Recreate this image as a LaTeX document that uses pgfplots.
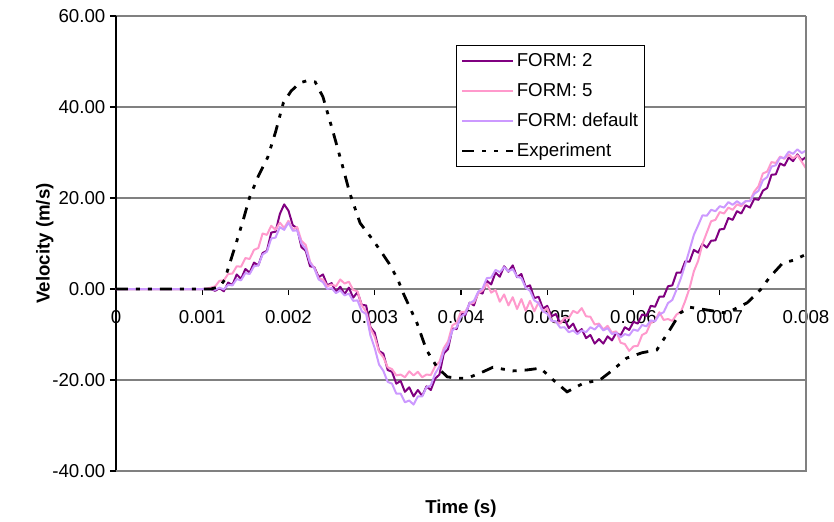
\documentclass[border=0pt]{standalone}
\usepackage{fontspec}
\setmainfont{Liberation Sans}
\usepackage{pgfplots}
\usepackage{pgfplotstable}
\pgfplotsset{compat=1.18}
\definecolor{cFtwo}{HTML}{800080}
\definecolor{cFfive}{HTML}{FF99CC}
\definecolor{cFdef}{HTML}{CC99FF}
\definecolor{gridgray}{HTML}{808080}

\pgfplotstableread{
t       f2     f5     fd
0       0      0      0
0.00050 0      0      0
0.00100 0      0      0
0.00105 0      0.1    0
0.00110 0      0.3    0
0.00115 -0.4   0.6    -0.2
0.00120 0.2    1.8    0.3
0.00125 -0.5   1.9    -0.1
0.00130 1.4    3.3    0.9
0.00135 0.9    3.4    0.8
0.00140 3.2    5.0    2.2
0.00145 2.2    4.9    1.9
0.00150 4.4    6.8    3.5
0.00155 3.6    6.6    3.3
0.00160 5.8    8.6    5.0
0.00165 5.2    9.0    5.2
0.00170 7.9    12.2   7.6
0.00175 8.4    11.9   8.2
0.00180 12.4   13.9   11.1
0.00185 12.6   13.0   11.3
0.00190 16.5   14.6   13.6
0.00195 18.6   13.4   13.0
0.00200 17.2   15.0   14.6
0.00205 14.0   13.1   12.8
0.00210 13.4   13.6   12.9
0.00215 9.2    10.6   10.0
0.00220 8.4    9.7    8.8
0.00225 5.0    6.0    5.8
0.00230 4.8    4.6    4.5
0.00235 2.6    2.3    2.1
0.00240 3.2    2.1    1.5
0.00245 0.8    0.6    0.0
0.00250 1.3    1.0    0.2
0.00255 -0.6   0.6    -0.9
0.00260 0.5    2.1    -0.3
0.00265 -1.1   1.2    -1.4
0.00270 0.3    1.6    -1.0
0.00275 -1.9   -0.2   -2.6
0.00280 -0.7   -0.5   -2.5
0.00285 -3.5   -3.6   -4.9
0.00290 -3.6   -5.0   -5.5
0.00295 -8.4   -8.6   -10.2
0.00300 -9.6   -10.5  -13.0
0.00305 -13.6  -13.8  -16.6
0.00310 -14.2  -15.0  -18.0
0.00315 -17.8  -17.2  -20.4
0.00320 -18.2  -17.6  -20.8
0.00325 -20.8  -19.0  -23.0
0.00330 -20.2  -18.8  -23.0
0.00335 -22.6  -19.4  -24.9
0.00340 -21.6  -18.1  -24.5
0.00345 -23.6  -19.0  -25.4
0.00350 -22.2  -18.2  -23.6
0.00355 -23.5  -19.4  -23.6
0.00360 -21.4  -18.8  -21.6
0.00365 -22.2  -18.9  -21.2
0.00370 -19.7  -17.0  -18.6
0.00375 -18.8  -16.0  -17.0
0.00380 -14.2  -13.0  -13.6
0.00385 -13.2  -11.5  -12.2
0.00390 -8.7   -8.0   -9.1
0.00395 -8.8   -7.4   -8.4
0.00400 -5.2   -5.0   -6.1
0.00405 -5.8   -5.0   -5.4
0.00410 -3.0   -3.3   -3.1
0.00415 -3.6   -3.0   -2.6
0.00420 -0.7   -1.0   -0.6
0.00425 -1.0   -0.3   0.1
0.00430 1.8    1.2    2.4
0.00435 1.0    -0.8   2.5
0.00440 3.6    -0.2   4.2
0.00445 2.7    -2.8   3.7
0.00450 5.0    -1.2   4.8
0.00455 3.8    -3.6   3.9
0.00460 5.2    -1.8   4.4
0.00465 2.6    -4.4   2.7
0.00470 3.3    -2.2   2.4
0.00475 0.4    -4.8   0.3
0.00480 0.8    -2.6   -0.4
0.00485 -2.0   -4.9   -2.5
0.00490 -1.7   -2.9   -3.1
0.00495 -4.3   -5.0   -4.9
0.00500 -3.7   -4.2   -5.4
0.00505 -6.0   -7.0   -7.0
0.00510 -5.5   -7.2   -7.1
0.00515 -7.5   -7.6   -8.5
0.00520 -6.6   -6.3   -8.4
0.00525 -8.6   -6.4   -9.5
0.00530 -7.6   -4.8   -9.1
0.00535 -9.6   -5.3   -9.9
0.00540 -8.8   -4.2   -9.1
0.00545 -10.8  -6.0   -9.5
0.00550 -10.1  -6.1   -8.4
0.00555 -12.0  -7.8   -8.9
0.00560 -11.0  -7.6   -7.9
0.00565 -12.0  -8.9   -9.1
0.00570 -10.4  -8.1   -8.6
0.00575 -11.3  -9.6   -9.9
0.00580 -9.6   -9.3   -9.6
0.00585 -10.2  -11.8  -10.6
0.00590 -8.4   -12.1  -9.9
0.00595 -9.0   -13.6  -10.2
0.00600 -7.2   -12.6  -8.9
0.00605 -7.6   -12.5  -9.2
0.00610 -5.6   -10.1  -7.9
0.00615 -5.9   -9.6   -8.2
0.00620 -3.7   -7.4   -6.9
0.00625 -3.9   -7.0   -7.1
0.00630 -1.7   -5.1   -5.6
0.00635 -1.7   -6.8   -5.1
0.00640 0.6    -6.6   -3.1
0.00645 0.8    -7.0   -2.4
0.00650 3.6    -5.6   -0.1
0.00655 3.6    -5.0   2.4
0.00660 6.1    -2.6   5.4
0.00665 6.0    0.2    8.6
0.00670 8.6    3.9    11.9
0.00675 8.0    6.2    14.0
0.00680 9.9    9.9    16.2
0.00685 9.1    12.4   16.1
0.00690 10.6   14.9   17.4
0.00695 10.7   15.2   17.1
0.00700 13.1   16.9   18.2
0.00705 13.2   16.6   17.9
0.00710 15.6   17.9   19.1
0.00715 15.2   17.4   18.5
0.00720 17.1   18.6   19.3
0.00725 16.6   18.2   18.6
0.00730 18.4   19.3   19.3
0.00735 17.9   19.4   19.3
0.00740 19.8   21.4   20.9
0.00745 19.6   22.6   21.6
0.00750 21.6   25.4   23.9
0.00755 22.2   25.8   24.6
0.00760 25.1   27.9   26.9
0.00765 25.2   27.7   27.2
0.00770 27.6   29.1   28.9
0.00775 27.1   28.6   28.8
0.00780 28.9   29.6   30.2
0.00785 28.1   28.7   29.7
0.00790 29.6   29.4   30.7
0.00795 28.3   28.0   29.9
0.00800 29.0   26.5   30.4
}\simdata

\pgfplotstableread{
t        v
0        0
0.00050  0
0.00110  0
0.00120  0.5
0.00126  2.0
0.00132  5.7
0.00140  10.5
0.00148  15.5
0.00155  20.2
0.00165  24.8
0.00176  29.0
0.00185  34.5
0.00194  40.9
0.00203  43.5
0.00213  45.3
0.00222  45.8
0.00231  45.5
0.00240  42.2
0.00252  34.3
0.00262  27.5
0.00271  21.1
0.00283  14.5
0.00295  11.5
0.00306  8.6
0.00317  5.5
0.00327  2.0
0.00333  -0.9
0.00340  -3.8
0.00349  -7.5
0.00360  -13.4
0.00372  -17.1
0.00384  -19.3
0.00395  -19.6
0.00407  -19.6
0.00422  -18.5
0.00437  -17.2
0.00460  -18.0
0.00476  -17.8
0.00492  -17.4
0.00507  -20.0
0.00523  -22.6
0.00542  -20.7
0.00561  -20.0
0.00576  -17.8
0.00592  -15.2
0.00610  -14.0
0.00627  -13.4
0.00642  -9.0
0.00654  -5.3
0.00665  -4.0
0.00685  -4.6
0.00708  -5.3
0.00732  -3.0
0.00747  -0.2
0.00758  2.6
0.00773  5.7
0.00785  6.3
0.00800  7.6
}\expdata

\begin{document}
\begin{tikzpicture}
\begin{axis}[
  scale only axis,
  width=517.5pt, height=341.25pt,
  xmin=0, xmax=0.008, ymin=-40, ymax=60,
  axis x line*=middle, axis y line*=left,
  hide obscured x ticks=false, hide obscured y ticks=false,
  scaled x ticks=false, scaled y ticks=false,
  xtick={0,0.001,0.002,0.003,0.004,0.005,0.006,0.007,0.008},
  xticklabels={0,0.001,0.002,0.003,0.004,0.005,0.006,0.007,0.008},
  ytick={-40,-20,0,20,40,60},
  yticklabels={-40.00,-20.00,0.00,20.00,40.00,60.00},
  tick align=outside, major tick length=4.5pt,
  ymajorgrids, grid style={gridgray, line width=1pt},
  x axis line style={gridgray, line width=1pt},
  y axis line style={black, line width=0.8pt},
  tick style={black, line width=0.8pt},
  ticklabel style={font=\fontsize{14}{16}\selectfont},
  xticklabel style={yshift=-8pt},
  label style={font=\fontsize{14}{16}\selectfont\bfseries},
  xlabel={Time (s)}, ylabel={Velocity (m/s)},
  xlabel style={at={(axis description cs:0.5,0)}, anchor=north, yshift=-18pt},
  ylabel style={at={(axis description cs:-0.103,0.5)}, anchor=center},
  legend style={at={(axis description cs:0.493,0.936)}, anchor=north west,
    draw=black, fill=white, line width=0.8pt,
    font=\fontsize{14}{16}\selectfont, row sep=7pt,
    inner xsep=3pt, inner ysep=4pt, cells={anchor=west}},
  legend image code/.code={\draw[#1] (0pt,0pt) -- (38pt,0pt);},
  after end axis/.code={
    \draw[gridgray, line width=1pt] (rel axis cs:0,0) -- (rel axis cs:1,0) -- (rel axis cs:1,1);
    \coordinate (bbsw) at (rel axis cs:-0.1681,-0.1077);
    \coordinate (bbne) at (rel axis cs:1.0406,1.0352);
  },
]
\addplot[cFtwo, line width=1.5pt, line join=round] table[x=t, y=f2] {\simdata};
\addlegendentry{FORM: 2}
\addplot[cFfive, line width=1.5pt, line join=round] table[x=t, y=f5] {\simdata};
\addlegendentry{FORM: 5}
\addplot[cFdef, line width=1.5pt, line join=round] table[x=t, y=fd] {\simdata};
\addlegendentry{FORM: default}
\addplot[black, line width=2.1pt, dash pattern={on 9pt off 6pt on 3pt off 6pt on 3pt off 6pt}] table[x=t, y=v] {\expdata};
\addlegendentry{Experiment}
\end{axis}
\path (bbsw) rectangle (bbne);
\end{tikzpicture}
\end{document}
